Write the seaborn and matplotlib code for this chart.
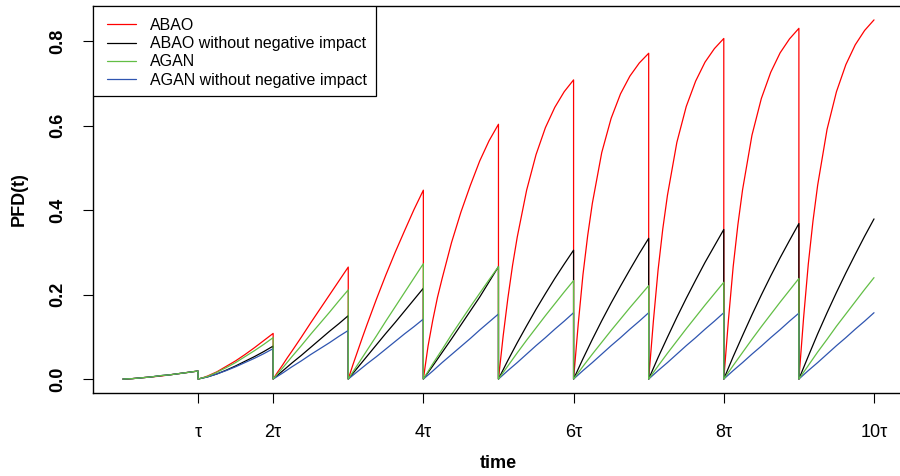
import numpy as np
import pandas as pd
import matplotlib
matplotlib.use('Agg')
import matplotlib.pyplot as plt
from matplotlib.patches import Rectangle
import seaborn as sns

frac_fine = [0, 0.0625, 0.125, 0.1875, 0.25, 0.375, 0.5, 0.625, 0.75, 0.875, 1]  # ABAO (steep start)
frac = [0, 0.125, 0.25, 0.375, 0.5, 0.625, 0.75, 0.875, 1]

# one row per test interval (0..tau, tau..2tau, ..., 9tau..10tau)
abao = [
    [0, .000, .001, .002, .003, .005, .007, .010, .013, .016, .019],
    [0, .003, .007, .012, .017, .030, .043, .058, .074, .091, .108],
    [0, .017, .033, .050, .066, .099, .133, .166, .199, .232, .265],
    [0, .034, .066, .098, .129, .189, .246, .300, .351, .401, .447],
    [0, .078, .139, .193, .238, .323, .395, .458, .516, .564, .603],
    [0, .102, .191, .269, .336, .447, .531, .595, .643, .680, .708],
    [0, .131, .247, .339, .416, .536, .617, .675, .717, .748, .771],
    [0, .137, .258, .355, .435, .560, .645, .705, .750, .782, .806],
    [0, .141, .266, .365, .448, .577, .664, .726, .772, .805, .830],
    [0, .145, .272, .374, .459, .591, .680, .744, .791, .825, .850],
]
abao_no_neg = [
    [0, .001, .003, .005, .008, .010, .013, .016, .019],
    [0, .005, .012, .021, .031, .042, .053, .065, .078],
    [0, .019, .038, .056, .075, .094, .113, .131, .150],
    [0, .027, .054, .081, .108, .134, .161, .188, .215],
    [0, .031, .063, .095, .128, .161, .194, .230, .266],
    [0, .044, .086, .126, .165, .202, .238, .272, .305],
    [0, .048, .094, .138, .180, .220, .259, .297, .333],
    [0, .051, .099, .146, .191, .234, .276, .315, .354],
    [0, .053, .103, .152, .199, .244, .287, .328, .368],
    [0, .054, .107, .157, .205, .251, .295, .338, .379],
]
agan = [
    [0, .001, .003, .005, .008, .010, .013, .016, .019],
    [0, .006, .016, .027, .039, .053, .067, .082, .098],
    [0, .026, .053, .079, .106, .132, .158, .185, .211],
    [0, .034, .068, .102, .137, .171, .205, .239, .273],
    [0, .036, .070, .105, .138, .171, .203, .235, .266],
    [0, .031, .062, .092, .121, .150, .178, .206, .233],
    [0, .030, .059, .087, .115, .142, .169, .195, .221],
    [0, .031, .061, .090, .119, .147, .175, .202, .229],
    [0, .032, .063, .094, .124, .153, .182, .210, .238],
    [0, .032, .064, .094, .125, .154, .183, .212, .240],
]
agan_no_neg = [
    [0, .001, .003, .005, .008, .010, .013, .016, .019],
    [0, .005, .012, .020, .029, .039, .049, .060, .072],
    [0, .014, .029, .043, .058, .072, .086, .101, .115],
    [0, .018, .036, .053, .071, .089, .107, .124, .142],
    [0, .019, .039, .058, .077, .096, .116, .135, .154],
    [0, .020, .039, .059, .079, .098, .118, .137, .157],
    [0, .020, .039, .059, .079, .098, .118, .137, .157],
    [0, .020, .039, .059, .079, .098, .118, .137, .157],
    [0, .020, .039, .059, .078, .098, .117, .137, .156],
    [0, .020, .039, .059, .079, .098, .118, .137, .157],
]

labels = ['ABAO', 'ABAO without negative impact', 'AGAN', 'AGAN without negative impact']
colors = ['#ff0000', '#000000', '#62be45', '#2f55b0']
xtick_pos = [1, 2, 4, 6, 8, 10]
xtick_labels = ['τ', '2τ', '4τ', '6τ', '8τ', '10τ']
ytick_pos = [0, 0.2, 0.4, 0.6, 0.8]
ytick_labels = ['0.0', '0.2', '0.4', '0.6', '0.8']

# long-format table
rows = []
for name, vals, fr in zip(labels, [abao, abao_no_neg, agan, agan_no_neg],
                          [frac_fine, frac, frac, frac]):
    for k, seg in enumerate(vals):
        for f, v in zip(fr, seg):
            rows.append((name, k + f, v))
df = pd.DataFrame(rows, columns=['series', 't', 'pfd'])

sns.set_theme(style='ticks')
plt.rcParams['font.family'] = ['Liberation Sans', 'DejaVu Sans']
plt.rcParams['text.color'] = 'black'
plt.rcParams['axes.labelcolor'] = 'black'
plt.rcParams['xtick.color'] = 'black'
plt.rcParams['ytick.color'] = 'black'

fig = plt.figure(figsize=(9, 4.76), dpi=100)
ax = fig.add_axes([0.1032, 0.1735, 0.9013, 0.8149])

# draw order: red, black, blue, green (green ends up on top)
draw_order = [0, 1, 3, 2]
handles = {}
for z, i in enumerate(draw_order):
    sns.lineplot(data=df[df['series'] == labels[i]], x='t', y='pfd',
                 color=colors[i], lw=0.9, sort=False, estimator=None,
                 ax=ax, legend=False)
    line = ax.lines[-1]
    line.set_zorder(2 + z)
    handles[i] = line

ax.set_xlim(-0.4, 10.4)
ax.set_ylim(-0.034, 0.884)

for sp in ax.spines.values():
    sp.set_visible(True)
    sp.set_color('black')
    sp.set_linewidth(1.0)

ax.set_xticks(xtick_pos)
ax.set_xticklabels(xtick_labels, fontsize=13)
ax.set_yticks(ytick_pos)
ax.set_yticklabels(ytick_labels, fontsize=13, fontweight='bold',
                   rotation=90, va='center')
ax.tick_params(axis='x', length=7, width=0.8, pad=15)
ax.tick_params(axis='y', length=7, width=0.8, pad=12)

ax.set_xlabel('time', fontsize=13, fontweight='bold')
ax.xaxis.set_label_coords(0.5, -0.158)
ax.set_ylabel('PFD(t)', fontsize=13, fontweight='bold')
ax.yaxis.set_label_coords(-0.08, 0.5)

# legend box in the top-left corner, R style
ax.add_patch(Rectangle((0, 0.7667), 0.349, 0.2333, transform=ax.transAxes,
                       fc='white', ec='black', lw=0.9, zorder=10))
leg = ax.legend([handles[i] for i in range(4)], labels, loc='upper left',
                bbox_to_anchor=(0.0174, 0.968), frameon=False, borderpad=0,
                borderaxespad=0, handlelength=1.8, handletextpad=0.87,
                labelspacing=0.2, fontsize=11.5)
leg.set_zorder(11)

fig.savefig('out.png', dpi=100)
